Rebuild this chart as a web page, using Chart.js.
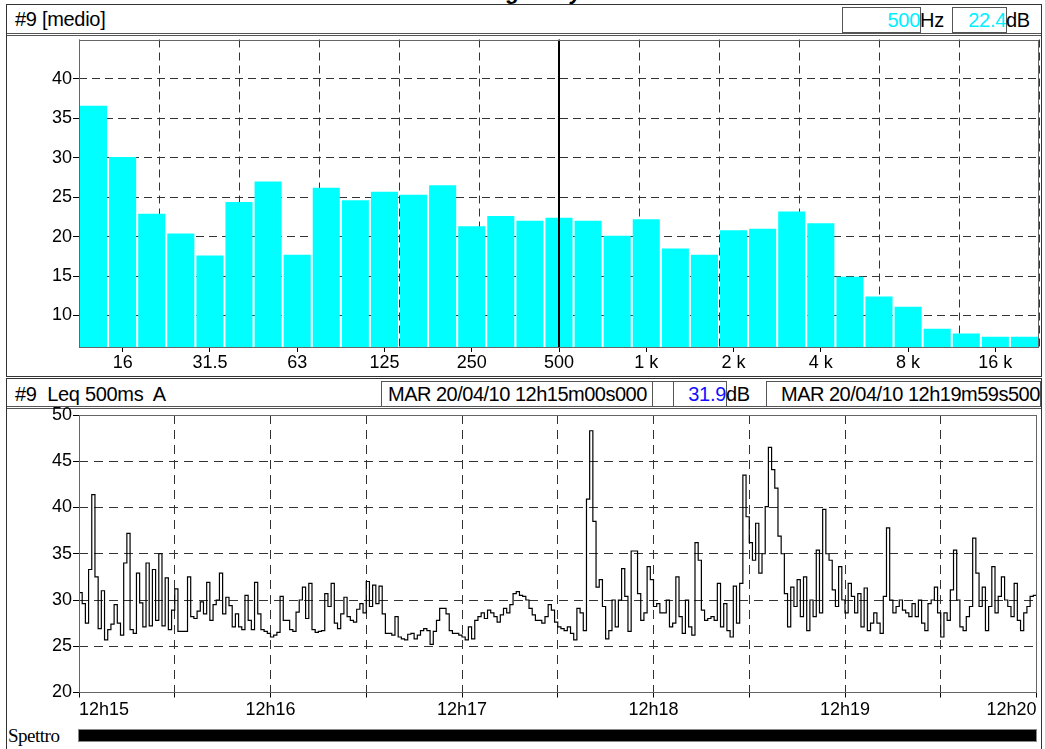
<!DOCTYPE html>
<html>
<head>
<meta charset="utf-8">
<script src="https://cdn.jsdelivr.net/npm/chart.js@4.4.1/dist/chart.umd.min.js"></script>
<style>
  body { margin: 0; width: 1045px; height: 749px; overflow: hidden; background: #fff; position: relative;
         font-family: "Liberation Sans", Arial, sans-serif; color: #000; }
  .abs { position: absolute; box-sizing: border-box; }
  .txt { font-size: 20px; line-height: 26px; white-space: pre; letter-spacing: -0.3px; }
  .box { border: 1px solid #555; font-size: 20px; line-height: 24px; white-space: pre; overflow: hidden; letter-spacing: -0.3px; }
  canvas { position: absolute; }
</style>
</head>
<body>
  <!-- title is mostly cut off at the top edge, only descenders show -->
  <div class="abs" style="left:430px; top:-19px; font: italic bold 22px/22px 'Liberation Sans', Arial; white-space:pre;">Time log analysis</div>

  <!-- top panel -->
  <div class="abs" style="left:6px; top:4px; width:1036px; height:373px; border:1px solid #333;"></div>
  <div class="abs" style="left:7px; top:5px; width:1034px; height:31px; border-bottom:3px double #555;"></div>
  <div class="abs txt" style="left:15px; top:6px;">#9 [medio]</div>
  <div class="abs box" style="left:842px; top:7px; width:79px; height:26px; text-align:right; color:#00f0ff;">500</div>
  <div class="abs txt" style="left:920px; top:7px;">Hz</div>
  <div class="abs box" style="left:952px; top:7px; width:55px; height:26px; text-align:right; color:#00f0ff;">22.4</div>
  <div class="abs txt" style="left:1006px; top:7px;">dB</div>

  <!-- bottom panel -->
  <div class="abs" style="left:6px; top:378px; width:1036px; height:380px; border:1px solid #333;"></div>
  <div class="abs" style="left:7px; top:379px; width:1034px; height:30px; border-bottom:3px double #555;"></div>
  <div class="abs txt" style="left:15px; top:381px;">#9  Leq 500ms  A</div>
  <div class="abs box" style="left:381px; top:381px; width:272px; height:26px; padding-left:6px; letter-spacing:-0.5px;">MAR 20/04/10 12h15m00s000</div>
  <div class="abs box" style="left:652px; top:381px; width:22px; height:26px;"></div>
  <div class="abs box" style="left:673px; top:381px; width:54px; height:26px; text-align:right; color:#1010ff;">31.9</div>
  <div class="abs txt" style="left:726px; top:381px;">dB</div>
  <div class="abs box" style="left:766px; top:381px; width:275px; height:26px; padding-left:14px; letter-spacing:-0.5px;">MAR 20/04/10 12h19m59s500</div>

  <div class="abs" style="left:8px; top:728px; font: 19px/16px 'Liberation Serif', 'Times New Roman', serif; letter-spacing:-0.5px;">Spettro</div>
  <div class="abs" style="left:78px; top:729px; width:959px; height:13px; background:#000; border:1px solid #888;"></div>

  <canvas id="spectrum" width="1032" height="348" style="left:8px; top:27px;"></canvas>
  <canvas id="leq" width="1032" height="324" style="left:8px; top:400px;"></canvas>

<script>
// third-octave bands, only the octave ones get a label on the axis
const bands = ['12.5','16','20','25','31.5','40','50','63','80','100','125','160','200','250','315','400','500',
  '630','800','1 k','1.25 k','1.6 k','2 k','2.5 k','3.15 k','4 k','5 k','6.3 k','8 k','10 k','12.5 k','16 k','20 k'];
const octaveLabels = ['16','31.5','63','125','250','500','1 k','2 k','4 k','8 k','16 k'];
const spectrumDb = [36.6, 30.1, 22.9, 20.4, 17.6, 24.4, 27.0, 17.7, 26.2, 24.6, 25.7, 25.3, 26.5, 21.3, 22.6, 22.0, 22.4,
  22.0, 20.1, 22.2, 18.5, 17.7, 20.8, 21.0, 23.2, 21.7, 14.9, 12.4, 11.1, 8.3, 7.7, 7.3, 7.3];
const cursorBand = '500';
const spectrumTicks = [10, 15, 20, 25, 30, 35, 40];

// Leq time history, one value per second from 12h15m00
const leqDb = [
  33.6, 30.8, 29.6, 27.5, 33.3, 41.4, 32.5, 26.9, 31.0, 25.7,
  26.8, 27.4, 29.5, 27.5, 26.2, 34.0, 37.2, 26.8, 26.4, 32.9,
  29.7, 27.1, 34.0, 27.2, 33.3, 27.8, 35.0, 27.2, 32.4, 26.8,
  28.9, 31.2, 26.6, 26.6, 26.6, 32.5, 28.2, 28.0, 28.8, 29.8,
  28.5, 31.9, 27.8, 29.5, 30.0, 32.9, 28.5, 30.3, 29.4, 27.1,
  28.5, 27.1, 26.8, 30.5, 27.8, 26.8, 31.9, 28.5, 26.8, 26.6,
  26.4, 26.0, 26.2, 26.5, 30.4, 27.8, 27.8, 26.8, 26.6, 28.7,
  30.0, 31.4, 28.0, 31.8, 26.8, 26.5, 26.6, 26.7, 30.7, 29.3,
  31.8, 27.5, 26.9, 28.5, 30.3, 28.2, 27.8, 27.6, 29.0, 29.6,
  28.6, 32.0, 29.3, 31.6, 29.6, 31.5, 28.5, 26.4, 26.4, 26.2,
  28.2, 26.0, 25.8, 25.7, 26.3, 26.4, 25.8, 26.2, 26.7, 26.9,
  26.7, 25.2, 26.6, 27.8, 29.1, 29.1, 28.5, 26.7, 26.4, 26.4,
  26.2, 26.0, 25.7, 27.1, 25.8, 27.8, 28.2, 28.6, 28.0, 28.9,
  28.6, 28.2, 27.6, 28.4, 29.1, 28.6, 29.5, 30.7, 30.9, 30.5,
  30.4, 30.0, 29.1, 28.4, 27.8, 27.8, 27.5, 28.2, 29.5, 28.9,
  27.6, 27.1, 26.9, 26.7, 27.1, 26.4, 25.7, 29.1, 28.6, 26.7,
  40.9, 48.3, 38.5, 31.4, 32.2, 29.3, 25.8, 26.7, 30.0, 27.1,
  30.0, 33.4, 30.4, 26.6, 35.3, 35.3, 30.7, 27.8, 28.6, 33.6,
  32.2, 29.3, 29.6, 28.6, 28.6, 30.0, 27.1, 27.5, 32.5, 28.2,
  26.4, 30.0, 27.1, 26.2, 36.2, 34.3, 28.9, 27.8, 28.0, 28.2,
  27.8, 31.8, 27.1, 29.6, 26.7, 26.0, 31.5, 27.5, 31.8, 43.5,
  39.0, 36.2, 34.3, 38.3, 32.9, 35.0, 40.1, 46.5, 44.1, 42.1,
  36.9, 35.0, 30.7, 27.1, 31.4, 29.3, 32.2, 28.2, 32.5, 26.7,
  30.0, 28.2, 35.4, 28.6, 39.8, 35.0, 34.3, 31.1, 29.3, 33.6,
  30.0, 28.6, 31.8, 30.4, 28.6, 30.7, 27.1, 31.3, 26.7, 27.5,
  28.6, 27.5, 26.4, 30.4, 37.8, 30.0, 28.6, 29.3, 30.0, 28.9,
  28.6, 28.2, 29.6, 28.2, 30.0, 27.5, 26.7, 29.6, 30.0, 31.4,
  28.6, 26.0, 28.6, 27.8, 31.1, 35.4, 30.0, 27.1, 26.7, 28.2,
  29.3, 36.7, 32.9, 29.3, 31.4, 26.7, 29.3, 33.6, 28.6, 30.4,
  32.5, 30.0, 29.3, 28.2, 31.8, 27.8, 26.7, 28.6, 29.3, 30.4,
  30.5
];
const timeLabels = ['12h15', '12h16', '12h17', '12h18', '12h19', '12h20'];

Chart.defaults.font.family = '"Liberation Sans", Arial, sans-serif';
Chart.defaults.font.size = 18;
Chart.defaults.color = '#000';

// thin grey box round the plot area
const frame = {
  id: 'frame',
  afterDraw(chart) {
    const a = chart.chartArea, c = chart.ctx;
    c.save();
    c.strokeStyle = '#666';
    c.lineWidth = 1;
    c.strokeRect(Math.round(a.left) + 0.5, Math.round(a.top) + 0.5, Math.round(a.width) - 1, Math.round(a.height) - 1);
    c.restore();
  }
};

const gridCol = '#333';

// spectrum
new Chart(document.getElementById('spectrum'), {
  type: 'bar',
  data: {
    labels: bands,
    datasets: [
      {
        type: 'line',
        data: [{ x: cursorBand, y: 6 }, { x: cursorBand, y: 45 }],
        borderColor: '#000', borderWidth: 2, pointRadius: 0, order: 0
      },
      {
        data: spectrumDb,
        backgroundColor: '#00ffff',
        categoryPercentage: 1, barPercentage: 0.93, order: 1
      }
    ]
  },
  options: {
    responsive: false, animation: false, devicePixelRatio: 1,
    layout: { padding: { top: 12.5, right: 1, left: 0, bottom: 0 } },
    plugins: { legend: { display: false }, tooltip: { enabled: false } },
    scales: {
      x: {
        type: 'category', offset: true,
        grid: {
          offset: false, drawOnChartArea: false, tickLength: 5,
          tickColor: ctx => octaveLabels.includes(bands[ctx.index]) ? '#000' : 'rgba(0,0,0,0)'
        },
        border: { display: false },
        ticks: {
          autoSkip: false, maxRotation: 0, padding: 0,
          callback: (v, i) => octaveLabels.includes(bands[i]) ? bands[i] : ''
        },
        afterFit: s => { s.height = 28; }
      },
      xg: {
        type: 'linear', position: 'bottom', min: 0, max: bands.length, z: 1,
        grid: { color: gridCol, drawTicks: false },
        border: { display: false, dash: [8, 5] },
        ticks: { display: false, stepSize: 3 },
        afterFit: s => { s.height = 0; }
      },
      y: {
        min: 6, max: 45, z: 1,
        afterBuildTicks: s => { s.ticks = spectrumTicks.map(v => ({ value: v })); },
        grid: { color: gridCol, tickLength: 6, tickColor: '#000' },
        border: { display: false, dash: [8, 5] },
        ticks: { padding: 1 },
        afterFit: s => { s.width = 71; }
      }
    }
  },
  plugins: [frame]
});

// Leq time history
new Chart(document.getElementById('leq'), {
  type: 'line',
  data: {
    datasets: [{
      data: leqDb.map((v, i) => ({ x: i, y: v })),
      stepped: 'after',
      borderColor: '#000', borderWidth: 1.2, pointRadius: 0
    }]
  },
  options: {
    responsive: false, animation: false, devicePixelRatio: 1,
    layout: { padding: { top: 15, right: 3.5, left: 0, bottom: 0 } },
    plugins: { legend: { display: false }, tooltip: { enabled: false } },
    scales: {
      x: {
        type: 'linear', min: 0, max: 300, z: 1,
        grid: { color: gridCol, tickLength: 5, tickColor: '#000' },
        border: { display: false, dash: [9, 6] },
        ticks: {
          stepSize: 30, autoSkip: false, maxRotation: 0, align: 'inner', padding: 2,
          callback: v => v % 60 === 0 ? timeLabels[v / 60] : ''
        },
        afterFit: s => { s.height = 31.5; }
      },
      y: {
        min: 20, max: 50, z: 1,
        grid: { color: gridCol, tickLength: 6, tickColor: '#000' },
        border: { display: false, dash: [9, 6] },
        ticks: { stepSize: 5, padding: 1 },
        afterFit: s => { s.width = 71; }
      }
    }
  },
  plugins: [frame]
});
</script>
</body>
</html>
